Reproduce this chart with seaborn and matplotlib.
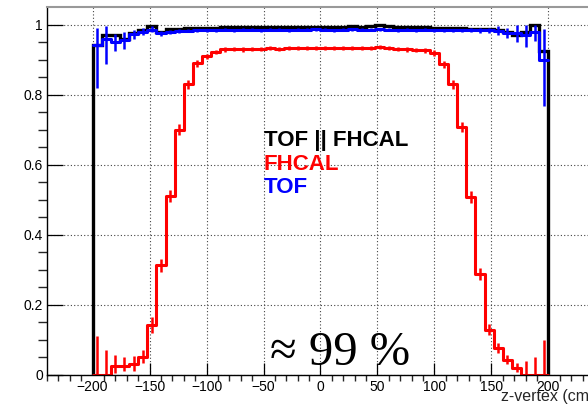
import numpy as np
import pandas as pd
import matplotlib
matplotlib.use('Agg')
import matplotlib.pyplot as plt
import seaborn as sns

# binning of the z-vertex histograms: 50 bins of 8 cm
z_lo, z_hi, n_bins = -200, 200, 50

# efficiency per bin
eff_any = [0.943, 0.969, 0.969, 0.960, 0.976, 0.984, 0.995, 0.978, 0.987, 0.988,
           0.989, 0.990, 0.990, 0.991, 0.992, 0.992, 0.993, 0.993, 0.992, 0.993,
           0.993, 0.993, 0.994, 0.993, 0.994, 0.994, 0.993, 0.994, 0.995, 0.994,
           0.995, 0.998, 0.995, 0.994, 0.994, 0.993, 0.992, 0.991, 0.990, 0.990,
           0.989, 0.987, 0.988, 0.988, 0.984, 0.978, 0.971, 0.978, 1.000, 0.924]

eff_fhcal = [0.0, 0.0, 0.025, 0.027, 0.030, 0.052, 0.143, 0.314, 0.512, 0.700,
             0.829, 0.890, 0.909, 0.921, 0.929, 0.930, 0.929, 0.931, 0.930, 0.932,
             0.931, 0.933, 0.932, 0.934, 0.933, 0.933, 0.934, 0.932, 0.933, 0.934,
             0.933, 0.936, 0.933, 0.931, 0.929, 0.928, 0.926, 0.919, 0.886, 0.829,
             0.707, 0.507, 0.288, 0.129, 0.076, 0.043, 0.020, 0.0, 0.0, 0.0]
fhcal_err_lo = [0.0, 0.0, 0.020, 0.017, 0.018, 0.017, 0.023, 0.019, 0.017, 0.015,
                0.013, 0.010, 0.008, 0.006, 0.006, 0.006, 0.006, 0.006, 0.006, 0.006,
                0.006, 0.006, 0.006, 0.006, 0.006, 0.006, 0.006, 0.006, 0.006, 0.006,
                0.006, 0.006, 0.006, 0.006, 0.006, 0.006, 0.006, 0.008, 0.010, 0.013,
                0.015, 0.017, 0.018, 0.015, 0.014, 0.013, 0.012, 0.0, 0.0, 0.0]
fhcal_err_hi = [0.110, 0.070, 0.032, 0.023, 0.025, 0.018, 0.022, 0.017, 0.017, 0.015,
                0.012, 0.010, 0.008, 0.006, 0.006, 0.006, 0.006, 0.006, 0.006, 0.006,
                0.006, 0.006, 0.006, 0.006, 0.006, 0.006, 0.006, 0.006, 0.006, 0.006,
                0.006, 0.006, 0.006, 0.006, 0.006, 0.006, 0.006, 0.008, 0.010, 0.012,
                0.015, 0.017, 0.018, 0.016, 0.014, 0.015, 0.015, 0.040, 0.050, 0.100]

eff_tof = [0.943, 0.960, 0.950, 0.955, 0.972, 0.980, 0.985, 0.975, 0.978, 0.981,
           0.982, 0.983, 0.984, 0.984, 0.985, 0.984, 0.985, 0.985, 0.984, 0.985,
           0.985, 0.984, 0.985, 0.985, 0.986, 0.985, 0.984, 0.985, 0.986, 0.985,
           0.985, 0.986, 0.985, 0.984, 0.985, 0.984, 0.985, 0.984, 0.983, 0.984,
           0.983, 0.984, 0.983, 0.983, 0.982, 0.976, 0.975, 0.970, 0.980, 0.900]
tof_err_lo = [0.124, 0.074, 0.026, 0.026, 0.014, 0.009, 0.007, 0.007, 0.006, 0.005,
              0.004, 0.004, 0.004, 0.004, 0.004, 0.004, 0.004, 0.004, 0.004, 0.004,
              0.004, 0.004, 0.004, 0.004, 0.004, 0.004, 0.004, 0.004, 0.004, 0.004,
              0.004, 0.004, 0.004, 0.004, 0.004, 0.004, 0.004, 0.004, 0.004, 0.004,
              0.005, 0.005, 0.006, 0.008, 0.013, 0.014, 0.024, 0.034, 0.028, 0.133]
tof_err_hi = [0.047, 0.037, 0.022, 0.025, 0.012, 0.010, 0.010, 0.007, 0.006, 0.005,
              0.004, 0.004, 0.004, 0.004, 0.004, 0.004, 0.004, 0.004, 0.004, 0.004,
              0.004, 0.004, 0.004, 0.004, 0.004, 0.004, 0.004, 0.004, 0.004, 0.004,
              0.004, 0.004, 0.004, 0.004, 0.004, 0.004, 0.004, 0.004, 0.004, 0.004,
              0.005, 0.005, 0.006, 0.008, 0.013, 0.014, 0.025, 0.030, 0.020, 0.087]

y_ticks = [0, 0.2, 0.4, 0.6, 0.8, 1.0]
y_tick_labels = ['0', '0.2', '0.4', '0.6', '0.8', '1']
x_ticks = [-200, -150, -100, -50, 0, 50, 100, 150, 200]

edges = np.linspace(z_lo, z_hi, n_bins + 1)
centers = 0.5 * (edges[:-1] + edges[1:])
bin_w = (z_hi - z_lo) / n_bins
df = pd.DataFrame({'z': centers, 'any': eff_any, 'fhcal': eff_fhcal, 'tof': eff_tof})

sns.set_theme(style='ticks')
plt.rcParams['font.family'] = ['Liberation Sans', 'DejaVu Sans']

fig = plt.figure(figsize=(5.88, 4.05), dpi=100)
# the frame runs past the right edge of the picture, as in the original
ax = fig.add_axes([47 / 588, 30 / 405, 547 / 588, 368 / 405])

ax.grid(True, linestyle=(0, (1, 2)), color='#444444', linewidth=0.8)
ax.set_axisbelow(True)

# FHCAL
sns.histplot(data=df, x='z', weights='fhcal', binwidth=bin_w, binrange=(z_lo, z_hi),
             element='step', fill=False, color='#ff0000', linewidth=2.2, ax=ax)
ax.errorbar(centers, eff_fhcal, yerr=[fhcal_err_lo, fhcal_err_hi], fmt='none',
            ecolor='#ff0000', elinewidth=1.8)
# TOF
sns.histplot(data=df, x='z', weights='tof', binwidth=bin_w, binrange=(z_lo, z_hi),
             element='step', fill=False, color='#0000ff', linewidth=2.2, ax=ax)
ax.errorbar(centers, eff_tof, yerr=[tof_err_lo, tof_err_hi], fmt='none',
            ecolor='#0000ff', elinewidth=1.8)
# TOF || FHCAL
ax.stairs(eff_any, edges, baseline=0, color='black', linewidth=2.4)

ax.set_xlim(-240, 240)
ax.set_ylim(0, 1.05)
ax.set_xticks(x_ticks)
ax.set_xticks(np.arange(-240, 241, 10), minor=True)
ax.set_yticks(y_ticks)
ax.set_yticklabels(y_tick_labels)
ax.set_yticks(np.arange(0, 1.05, 0.05), minor=True)
ax.tick_params(direction='in', colors='black', labelsize=10, width=0.9,
               top=False, right=False)
ax.tick_params(axis='x', which='major', length=8.6, pad=3.5)
ax.tick_params(axis='x', which='minor', length=4.3)
ax.tick_params(axis='y', which='major', length=11.5, pad=3)
ax.tick_params(axis='y', which='minor', length=6.5)
ax.set_ylabel('')
ax.set_xlabel('')
for s in ['left', 'bottom']:
    ax.spines[s].set_color('black')
    ax.spines[s].set_linewidth(1.0)
for s in ['top', 'right']:
    ax.spines[s].set_color('#999999')
    ax.spines[s].set_linewidth(1.5)

ax.text(1.0, -0.072, 'z-vertex (cm)', transform=ax.transAxes, ha='right', va='baseline',
        fontsize=11.5)

ax.text(-50, 0.652, 'TOF || FHCAL', color='black', fontsize=16, fontweight='bold', va='baseline')
ax.text(-50, 0.586, 'FHCAL', color='#ff0000', fontsize=16, fontweight='bold', va='baseline')
ax.text(-50, 0.520, 'TOF', color='#0000ff', fontsize=16, fontweight='bold', va='baseline')
ax.text(-44, 0.029, '\u2248 99 %', color='black', fontsize=35, va='baseline',
        family=['Liberation Serif', 'DejaVu Serif'])

fig.savefig('out.png', dpi=100)
